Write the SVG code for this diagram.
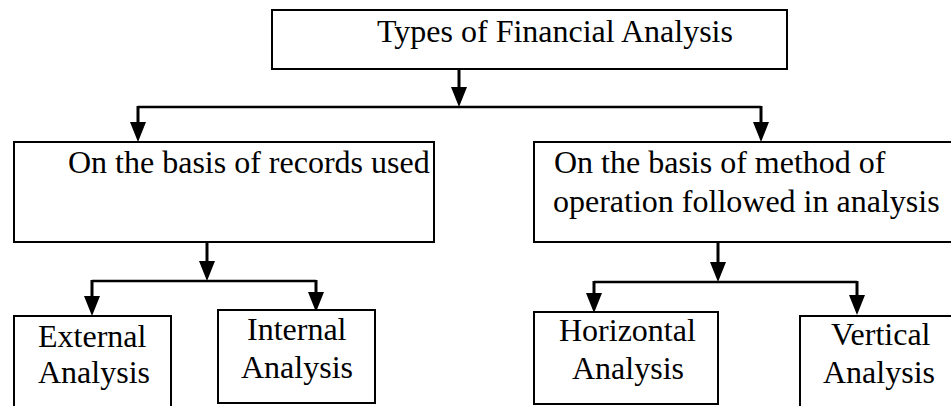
<svg xmlns="http://www.w3.org/2000/svg" width="951" height="406" viewBox="0 0 951 406">
  <style>
    .box { fill: #ffffff; stroke: #000000; stroke-width: 2; }
    .wire { fill: none; stroke: #000000; stroke-width: 2.5; }
    .drop { fill: none; stroke: #000000; stroke-width: 3; marker-end: url(#head); }
  </style>
  <defs>
    <marker id="head" markerUnits="userSpaceOnUse" viewBox="0 0 20 16" refX="10" refY="8" markerWidth="20" markerHeight="16" orient="auto">
      <path d="M0,0 L20,8 L0,16 Z" fill="#000000"/>
    </marker>
  </defs>
  <rect width="951" height="406" fill="#ffffff"/>

  <g id="connectors">
    <!-- root to first split -->
    <path class="drop" d="M459,69 V97"/>
    <path class="wire" d="M138,107 H761"/>
    <path class="drop" d="M138,106 V132"/>
    <path class="drop" d="M761,106 V132"/>
    <!-- records subtree -->
    <path class="drop" d="M207,242 V271"/>
    <path class="wire" d="M92,281 H316"/>
    <path class="drop" d="M92,280 V306"/>
    <path class="drop" d="M316,280 V302"/>
    <!-- method subtree -->
    <path class="drop" d="M718,242 V272"/>
    <path class="wire" d="M594,282 H857"/>
    <path class="drop" d="M594,281 V303"/>
    <path class="drop" d="M857,281 V305"/>
  </g>

  <g id="nodes" font-family="Liberation Serif" font-size="32" fill="#000000">
    <g id="root">
      <rect class="box" x="272" y="10" width="515" height="59"/>
      <text x="377" y="42">Types of Financial Analysis</text>
    </g>

    <g id="records">
      <rect class="box" x="14" y="142" width="420" height="100"/>
      <text x="68" y="173">On the basis of records used</text>
    </g>

    <g id="method">
      <rect class="box" x="534" y="142" width="430" height="100"/>
      <text x="554" y="173">On the basis of method of</text>
      <text x="553" y="212">operation followed in analysis</text>
    </g>

    <g id="external">
      <rect class="box" x="14" y="316" width="157" height="100"/>
      <text x="38" y="347">External</text>
      <text x="38" y="383">Analysis</text>
    </g>

    <g id="internal">
      <rect class="box" x="218" y="310" width="157" height="93"/>
      <text x="247" y="340">Internal</text>
      <text x="241" y="378">Analysis</text>
    </g>

    <g id="horizontal">
      <rect class="box" x="534" y="312" width="184" height="92"/>
      <text x="559" y="341">Horizontal</text>
      <text x="572" y="379">Analysis</text>
    </g>

    <g id="vertical">
      <rect class="box" x="800" y="316" width="170" height="100"/>
      <text x="831" y="345">Vertical</text>
      <text x="823" y="383">Analysis</text>
    </g>
  </g>
</svg>
